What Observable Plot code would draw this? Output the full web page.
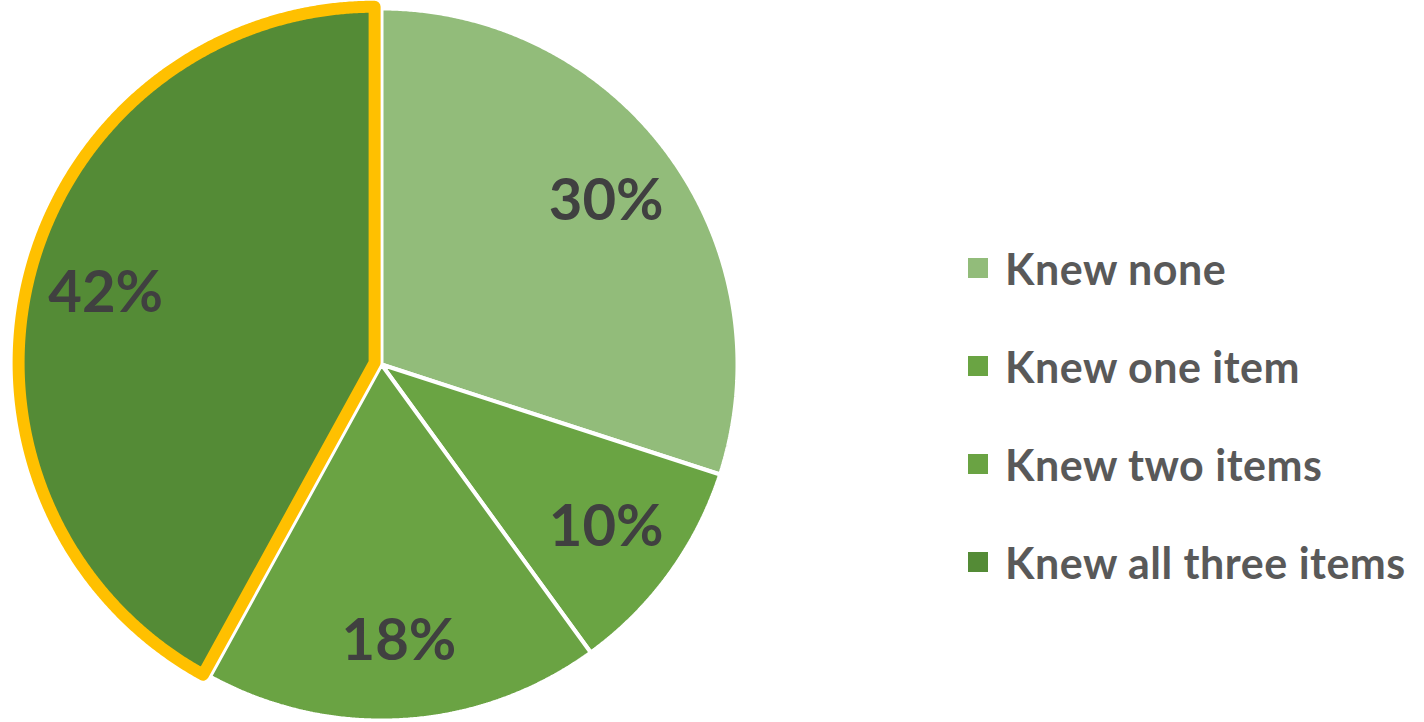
<!DOCTYPE html>
<html>
<head>
<meta charset="utf-8">
<script src="https://cdn.jsdelivr.net/npm/d3@7"></script>
<script src="https://cdn.jsdelivr.net/npm/@observablehq/plot@0.6"></script>
<style>
  html, body { margin: 0; padding: 0; background: #ffffff; }
  #wrap { position: relative; width: 1424px; height: 722px; overflow: hidden; }
  #chart { position: absolute; left: 0; top: 0; }
  #legend { position: absolute; left: 968px; top: 219px; font-family: Lato, "Open Sans", sans-serif; font-weight: 700; font-size: 43px; letter-spacing: 0.5px; color: #595959; }
  .row { display: flex; align-items: center; height: 98px; white-space: nowrap; }
  .sw { width: 20px; height: 20px; margin-right: 17px; flex: none; }
</style>
</head>
<body>
<div id="wrap">
  <div id="chart"></div>
  <div id="legend"></div>
</div>
<script>
// ---- data ----
const categories = ["Knew none", "Knew one item", "Knew two items", "Knew all three items"];
const values = [30, 10, 18, 42];
const labels = ["30%", "10%", "18%", "42%"];
const colors = ["#92BC7A", "#6AA443", "#6AA343", "#548B36"];
const highlighted = "Knew all three items";

// ---- geometry (derived from values) ----
const arcs = d3.pie().sort(null).value(d => d)(values);
const explode = 0.02;      // in radius units
const labelR = 0.78;
const polys = [];
const labelData = [];
arcs.forEach((a, i) => {
  const cat = categories[i];
  const mid = (a.startAngle + a.endAngle) / 2;
  const off = cat === highlighted ? explode : 0;
  const ox = off * Math.sin(mid), oy = off * Math.cos(mid);
  const pts = [];
  pts.push({cat, x: ox, y: oy});
  const n = Math.max(4, Math.ceil((a.endAngle - a.startAngle) / 0.005));
  for (let k = 0; k <= n; k++) {
    const t = a.startAngle + (a.endAngle - a.startAngle) * k / n;
    pts.push({cat, x: ox + Math.sin(t), y: oy + Math.cos(t)});
  }
  pts.push({cat, x: ox, y: oy});
  pts.push({cat, x: ox + Math.sin(a.startAngle), y: oy + Math.cos(a.startAngle)});
  polys.push({cat, pts});
  labelData.push({text: labels[i], x: ox + labelR * Math.sin(mid), y: oy + labelR * Math.cos(mid)});
});

const normalPts = polys.filter(p => p.cat !== highlighted).flatMap(p => p.pts);
const hiPts = polys.filter(p => p.cat === highlighted).flatMap(p => p.pts);

const chart = Plot.plot({
  width: 1424,
  height: 722,
  margin: 0,
  style: {background: "transparent", overflow: "visible"},
  x: {type: "linear", domain: [-1, 1], range: [25, 737], axis: null},
  y: {type: "linear", domain: [-1, 1], range: [720, 8], axis: null},
  color: {domain: categories, range: colors},
  marks: [
    Plot.line(normalPts, {x: "x", y: "y", z: "cat", fill: "cat", stroke: "#ffffff", strokeWidth: 4, strokeLinejoin: "miter", curve: "linear"}),
    Plot.line(hiPts, {x: "x", y: "y", z: "cat", fill: "cat", stroke: "#FFC000", strokeWidth: 12, strokeLinejoin: "round", curve: "linear"}),
    Plot.text(labelData, {x: "x", y: "y", text: "text", fill: "#404040", fontSize: 58, fontWeight: "bold", fontFamily: "Lato, 'Open Sans', sans-serif", textAnchor: "middle", lineAnchor: "middle"})
  ]
});
document.getElementById("chart").appendChild(chart);

// ---- legend ----
const legend = document.getElementById("legend");
categories.forEach((c, i) => {
  const row = document.createElement("div");
  row.className = "row";
  const sw = document.createElement("div");
  sw.className = "sw";
  sw.style.background = colors[i];
  const tx = document.createElement("span");
  tx.textContent = c;
  row.appendChild(sw);
  row.appendChild(tx);
  legend.appendChild(row);
});
</script>
</body>
</html>
